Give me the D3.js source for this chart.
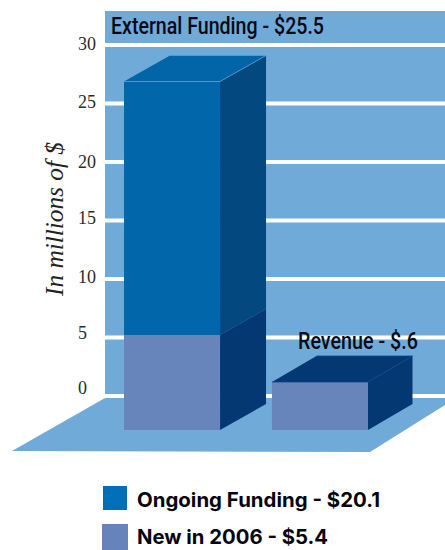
<!DOCTYPE html>
<html>
<head>
<meta charset="utf-8">
<style>
html,body{margin:0;padding:0;background:#fff}
svg{display:block}
</style>
<script src="https://cdn.jsdelivr.net/npm/d3@7"></script>
</head>
<body>
<svg id="chart" width="445" height="550"></svg>
<script>
// Funding figures, in millions of dollars
const categories = ["External Funding", "Revenue"];
const ongoingValues = [20.1, 0];
const newValues = [5.4, 0.6];
const categoryTotals = ["$25.5", "$.6"];
const axisTicks = [0, 5, 10, 15, 20, 25, 30];
const legendLabels = ["Ongoing Funding - $20.1", "New in 2006 - $5.4"];
const axisTitle = "In millions of $";

const svg = d3.select("#chart");
const wallBlue = "#70aad8";

// Back wall carries the printed axis; the front faces have their own height scale
const wallY = d3.scaleLinear().domain([0, 30]).range([396, 45]);
const tickLabelY = d3.scaleLinear().domain(axisTicks).range([388, 333, 277, 218, 162, 102, 44]);
const faceY = d3.scaleLinear().domain([0, 0.6, 5.4, 25.5]).range([430, 382, 335, 81.5]);
const faceX = d3.scaleBand().domain(categories).range([124, 368]).paddingInner(0.351);
const depthX = d3.scaleOrdinal().domain(categories).range([46, 44.5]);
const depthY = -26;

// Wall and floor
svg.append("rect").attr("x", 105).attr("y", 11).attr("width", 340).attr("height", 385).attr("fill", wallBlue);
svg.append("polygon")
  .attr("points", "105,398 445,398 445,405 370,452 12,451")
  .attr("fill", wallBlue);

// Gridlines
svg.append("g").selectAll("line").data(axisTicks).join("line")
  .attr("x1", 105).attr("x2", 445)
  .attr("y1", d => wallY(d)).attr("y2", d => wallY(d))
  .attr("stroke", "#fff").attr("stroke-width", 4);

// Axis numerals
svg.append("g").selectAll("text").data(axisTicks).join("text")
  .attr("x", 78).attr("y", d => tickLabelY(d)).attr("dy", "0.35em")
  .attr("font-family", "'Liberation Serif', serif").attr("font-size", 18)
  .attr("fill", "#2b2b2b")
  .text(d => d);

svg.append("text")
  .attr("transform", "translate(63,296) rotate(-90)")
  .attr("font-family", "'Liberation Serif', serif").attr("font-style", "italic").attr("font-size", 25)
  .attr("textLength", 154).attr("lengthAdjust", "spacingAndGlyphs")
  .attr("fill", "#222")
  .text(axisTitle);

// One extruded box: front face, side face and, when it is the top of its stack, a lid
function box(cat, from, to, front, side, lid, edge) {
  const x0 = faceX(cat), x1 = x0 + faceX.bandwidth();
  const dx = depthX(cat);
  const yTop = faceY(to), yBot = faceY(from);
  const g = svg.append("g");
  const pts = a => a.map(p => p.join(",")).join(" ");
  g.append("polygon")
    .attr("points", pts([[x1, yTop], [x1 + dx, yTop + depthY], [x1 + dx, yBot + depthY], [x1, yBot]]))
    .attr("fill", side);
  g.append("rect").attr("x", x0).attr("y", yTop).attr("width", x1 - x0).attr("height", yBot - yTop).attr("fill", front);
  if (lid) {
    g.append("polygon")
      .attr("points", pts([[x0, yTop], [x0 + dx, yTop + depthY], [x1 + dx, yTop + depthY], [x1, yTop]]))
      .attr("fill", lid);
    g.append("polyline")
      .attr("points", pts([[x0, yTop], [x1, yTop], [x1 + dx, yTop + depthY], [x0 + dx, yTop + depthY]]))
      .attr("fill", "none").attr("stroke", edge).attr("stroke-width", 0.8);
  }
}

// Stacked bars
categories.forEach((cat, i) => {
  const base = newValues[i];
  const total = base + ongoingValues[i];
  if (ongoingValues[i] > 0) box(cat, base, total, "#0266aa", "#044880", "#0265a8", "#5b9fd2");
  box(cat, 0, base, "#6784bb", "#033873", ongoingValues[i] > 0 ? null : "#033873", "#0a4a8a");
});

// Bar captions, condensed
function caption(text, x, y, len) {
  svg.append("text")
    .attr("x", x).attr("y", y)
    .attr("font-family", "Roboto, sans-serif").attr("font-size", 24).attr("font-weight", 500)
    .attr("textLength", len).attr("lengthAdjust", "spacingAndGlyphs")
    .attr("fill", "#0a0a14")
    .text(text);
}
caption(`${categories[0]} - ${categoryTotals[0]}`, 111, 34, 213);
caption(`${categories[1]} - ${categoryTotals[1]}`, 298, 349, 120);

// Legend
const legendColors = ["#0070ba", "#6783bc"];
const legendRows = [
  { sq: [103, 486, 24, 24], tx: 137, ty: 507, len: 243 },
  { sq: [102, 524, 26, 26], tx: 137, ty: 544, len: 191 }
];
legendLabels.forEach((label, i) => {
  const r = legendRows[i];
  svg.append("rect").attr("x", r.sq[0]).attr("y", r.sq[1]).attr("width", r.sq[2]).attr("height", r.sq[3]).attr("fill", legendColors[i]);
  svg.append("text")
    .attr("x", r.tx).attr("y", r.ty)
    .attr("font-family", "Inter, sans-serif").attr("font-weight", 700).attr("font-size", 20)
    .attr("textLength", r.len).attr("lengthAdjust", "spacingAndGlyphs")
    .attr("fill", "#050510")
    .text(label);
});
</script>
</body>
</html>
